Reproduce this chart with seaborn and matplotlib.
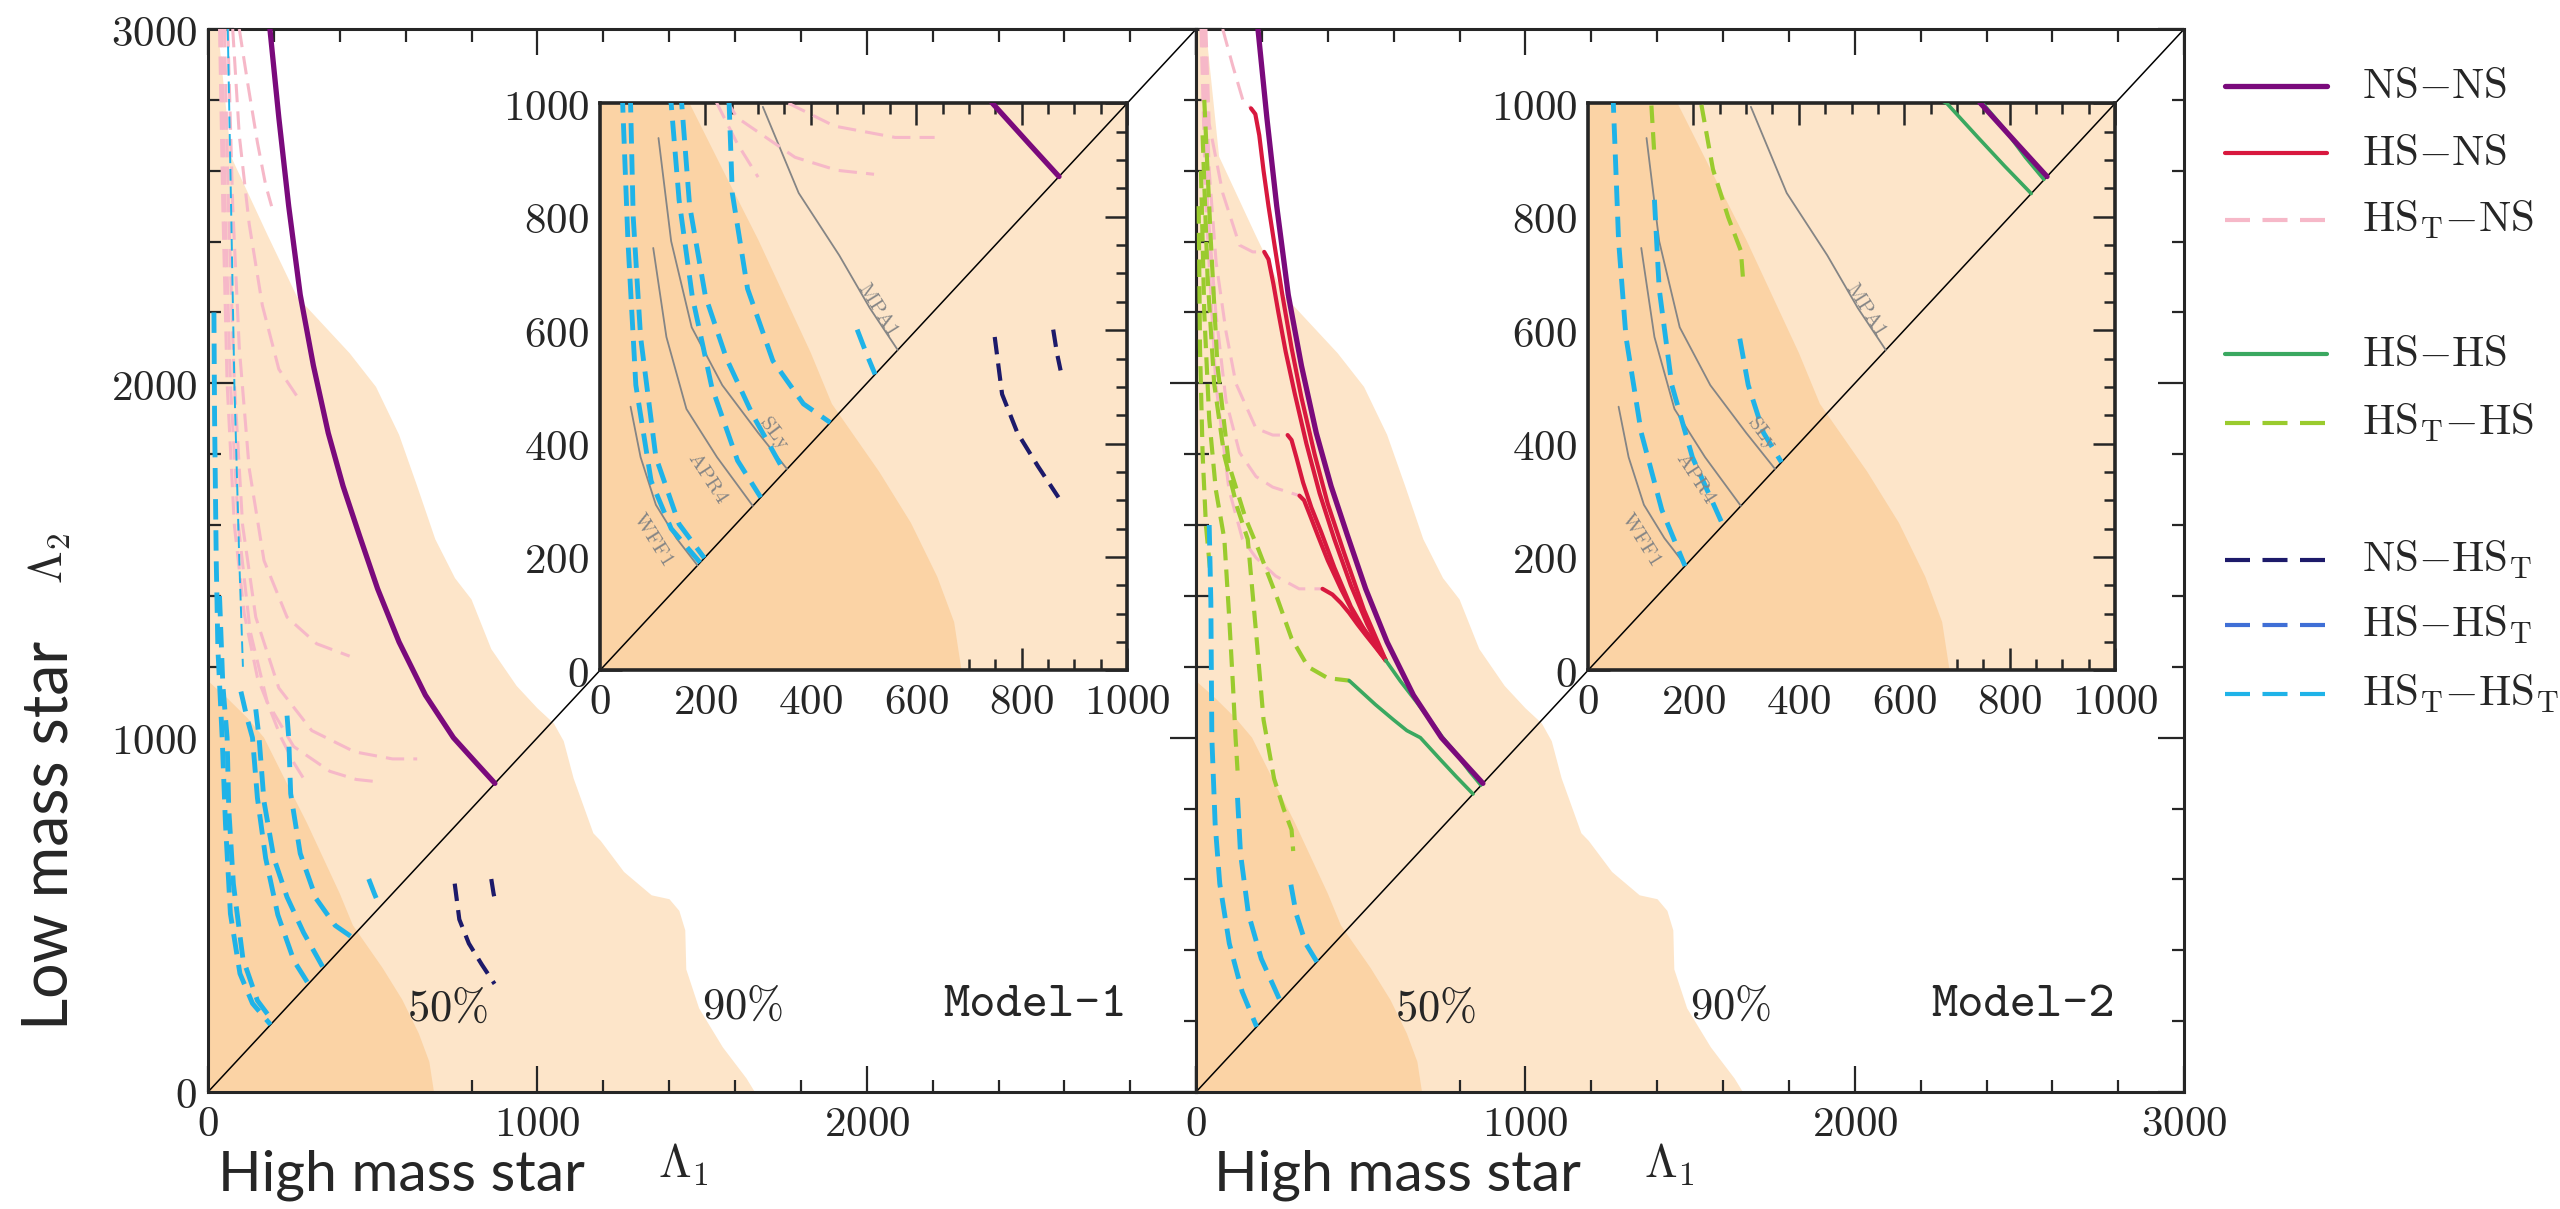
#!/usr/bin/env python3
# -*- coding: utf-8 -*-
#%% Import Modules
import pandas as pd
import seaborn as sns
import matplotlib.pyplot as plt
from matplotlib.lines import Line2D
from matplotlib.ticker import MultipleLocator, FuncFormatter

#%% Data: (Lambda_1, Lambda_2) points
# credible regions
c90_l1 = [0, 0, 30, 70, 180, 270, 350, 430, 510, 580, 635, 690, 750, 800, 860, 937, 1000,
          1050, 1080, 1110, 1170, 1192, 1263, 1347, 1401, 1431, 1449, 1452, 1491, 1563, 1635, 1660]
c90_l2 = [0, 3000, 3000, 2640, 2420, 2245, 2165, 2085, 1990, 1855, 1710, 1560, 1450, 1390, 1250,
          1146, 1083, 1040, 990, 885, 730, 709, 621, 555, 544, 511, 456, 346, 236, 126, 38, 0]
c50_l1 = [0, 0, 60, 120, 170, 240, 300, 350, 400, 440, 470, 530, 590, 640, 672, 686]
c50_l2 = [0, 1160, 1110, 1055, 1000, 870, 760, 660, 560, 470, 430, 350, 260, 165, 85, 0]
diag = [0, 3000]

# NS-NS (same in both models)
ns_ns = [(188, 3000), (215, 2750), (245, 2500), (280, 2250), (320, 2050), (365, 1860), (410, 1710),
         (460, 1570), (515, 1420), (580, 1270), (660, 1120), (745, 1000), (815, 928), (871, 871)]

# Model-1
hst_ns_1 = [
    [(95, 3000), (120, 2850), (150, 2680), (175, 2560), (193, 2500)],
    [(75, 3000), (95, 2700), (125, 2450), (165, 2220), (215, 2040), (280, 1950)],
    [(60, 3000), (75, 2500), (95, 2100), (125, 1760), (170, 1500), (240, 1340), (330, 1265), (430, 1230)],
    [(50, 3000), (62, 2500), (80, 2000), (105, 1600), (145, 1340), (215, 1140), (315, 1020), (445, 960),
     (560, 940), (635, 940)],
    [(42, 3000), (52, 2500), (68, 2000), (92, 1600), (128, 1300), (180, 1100), (260, 975), (370, 905),
     (450, 882), (520, 875)],
    [(35, 3000), (45, 2500), (58, 2000), (80, 1600), (110, 1350), (150, 1170), (222, 1000), (260, 930),
     (300, 870)],
]
hst_hst_1 = [
    [(18, 2200), (20, 1900), (25, 1500), (30, 1250), (43, 1000), (53, 757), (68, 503), (97, 334),
     (135, 250), (190, 190)],
    [(35, 1400), (45, 1150), (58, 1000), (63, 800), (77, 588), (106, 376), (150, 258), (198, 198)],
    [(100, 1130), (120, 1050), (135, 1000), (150, 830), (175, 660), (212, 500), (261, 370), (305, 305)],
    [(145, 1080), (155, 1000), (170, 820), (200, 660), (240, 550), (290, 450), (350, 350)],
    [(240, 1062), (245, 1000), (251, 842), (280, 673), (328, 546), (386, 470), (437, 437)],
    [(488, 601), (505, 560), (522, 522)],
]
hst_hst_1_thin = [(60, 3000), (70, 2500), (80, 2000), (95, 1500), (106, 1200)]
ns_hst_1 = [
    [(749, 588), (763, 487), (792, 419), (831, 360), (870, 305)],
    [(860, 601), (867, 560), (874, 529)],
]

# Model-2
hst_ns_2 = [
    [(81, 3000), (111, 2898), (142, 2800), (167, 2776)],
    [(30, 3000), (40, 2732), (81, 2537), (132, 2390), (172, 2371), (207, 2371)],
    [(25, 3000), (40, 2600), (61, 2341), (91, 2146), (121, 2000), (182, 1873), (233, 1854), (278, 1854)],
    [(20, 3000), (35, 2500), (60, 2200), (91, 1951), (132, 1805), (182, 1737), (233, 1707), (314, 1683)],
    [(15, 3000), (30, 2500), (60, 2000), (100, 1700), (141, 1560), (182, 1508), (242, 1456), (313, 1420),
     (384, 1420)],
]
hs_ns_2 = [
    [(167, 2776), (180, 2760), (192, 2700), (205, 2600), (220, 2500), (240, 2380), (262, 2250),
     (290, 2100), (320, 1960), (360, 1800), (400, 1660), (450, 1520), (510, 1360), (576, 1218)],
    [(207, 2371), (220, 2350), (235, 2280), (250, 2200), (272, 2090), (300, 1970), (335, 1830),
     (375, 1690), (420, 1560), (470, 1430), (520, 1320), (576, 1218)],
    [(278, 1854), (290, 1840), (305, 1790), (325, 1720), (350, 1650), (380, 1580), (420, 1480),
     (470, 1370), (520, 1290), (576, 1218)],
    [(314, 1683), (328, 1670), (345, 1630), (370, 1570), (400, 1500), (440, 1420), (490, 1330),
     (540, 1270), (576, 1218)],
    [(384, 1420), (414, 1404), (440, 1380), (465, 1352), (490, 1320), (515, 1290), (545, 1255), (576, 1218)],
]
hs_hs_2 = [
    [(465, 1161), (545, 1093), (600, 1050), (640, 1020), (681, 1000), (740, 940), (790, 890), (841, 841)],
    [(576, 1218), (620, 1160), (670, 1100), (710, 1050), (749, 1000), (790, 955), (830, 905), (865, 866)],
]
hst_hs_2 = [
    [(8, 2500), (12, 2100), (20, 1800), (30, 1600), (42, 1480)],
    [(15, 2600), (25, 2200), (40, 1900), (60, 1700), (86, 1560), (100, 1350), (112, 1150), (120, 1000),
     (126, 907)],
    [(20, 2700), (35, 2300), (55, 2000), (85, 1800), (125, 1650), (157, 1560), (182, 1300), (205, 1050),
     (237, 884), (266, 799), (290, 740), (295, 680)],
    [(25, 2800), (45, 2400), (65, 2050), (100, 1770), (150, 1620), (190, 1530), (244, 1400), (290, 1280),
     (340, 1200), (400, 1168), (465, 1161)],
]
hst_hst_2 = [
    [(40, 1600), (45, 1383), (48, 1000), (58, 757), (72, 588), (101, 419), (140, 283), (184, 184)],
    [(126, 830), (135, 673), (159, 503), (198, 376), (256, 256)],
    [(288, 585), (304, 503), (333, 419), (367, 367)],
]

# EOS reference lines (insets)
eos_names = ['WFF1', 'APR4', 'SLy', 'MPA1']
eos_lines = [
    [(58, 465), (77, 376), (106, 292), (145, 233), (185, 185)],
    [(101, 745), (126, 588), (164, 461), (222, 376), (290, 290)],
    [(111, 939), (135, 757), (174, 605), (232, 503), (300, 419), (355, 355)],
    [(309, 994), (377, 842), (454, 732), (512, 639), (565, 565)],
]
eos_label_pos = [(100, 232), (205, 340), (330, 418), (528, 636)]
eos_label_rot = [-58, -57, -53, -58]

legend_labels = [r'$\mathrm{NS{-}NS}$', r'$\mathrm{HS{-}NS}$', r'$\mathrm{HS_T{-}NS}$',
                 r'$\mathrm{HS{-}HS}$', r'$\mathrm{HS_T{-}HS}$',
                 r'$\mathrm{NS{-}HS_T}$', r'$\mathrm{HS{-}HS_T}$', r'$\mathrm{HS_T{-}HS_T}$']

#%% Styles
c_90 = '#fde5c9'
c_50 = '#fbd3a5'
col = {'NS-NS': '#7a0a7c', 'HS-NS': '#d8183e', 'HST-NS': '#f6b8c8', 'HS-HS': '#3aa860',
       'HST-HS': '#9acb2e', 'NS-HST': '#1d1a6a', 'HS-HST': '#3f6fd6', 'HST-HST': '#1fb3e8'}
dash = (4.2, 2.2)

sns.set_style('ticks')
plt.rcParams['mathtext.fontset'] = 'cm'
plt.rcParams['font.family'] = ['DejaVu Serif']
plt.rcParams['axes.linewidth'] = 2.2


def curve(ax, pts, color, lw, dashes=None, z=3):
    df = pd.DataFrame(pts, columns=['l1', 'l2'])
    ls = '-' if dashes is None else (0, dashes)
    sns.lineplot(data=df, x='l1', y='l2', sort=False, estimator=None, color=color,
                 lw=lw, linestyle=ls, ax=ax, zorder=z, legend=False)


def tex_fmt(hide=None):
    return FuncFormatter(lambda v, p: '' if (hide is not None and abs(v - hide) < 1) else f'${v:.0f}$')


def draw_model(ax, model):
    ax.fill(c90_l1, c90_l2, color=c_90, lw=0, zorder=0)
    ax.fill(c50_l1, c50_l2, color=c_50, lw=0, zorder=1)
    sns.lineplot(x=diag, y=diag, color='black', lw=1.1, ax=ax, zorder=2)
    if model == 1:
        for c in hst_ns_1:
            curve(ax, c, col['HST-NS'], 2.2, (6, 3))
        curve(ax, hst_hst_1_thin, col['HST-HST'], 1.4, (6, 3))
        for c in hst_hst_1:
            curve(ax, c, col['HST-HST'], 3.5, dash)
        for c in ns_hst_1:
            curve(ax, c, col['NS-HST'], 3.0, dash)
    else:
        for c in hst_ns_2:
            curve(ax, c, col['HST-NS'], 2.2, (6, 3))
        for c in hst_hs_2:
            curve(ax, c, col['HST-HS'], 3.0, dash)
        for c in hst_hst_2:
            curve(ax, c, col['HST-HST'], 3.5, dash)
        for c in hs_ns_2:
            curve(ax, c, col['HS-NS'], 3.0)
        for c in hs_hs_2:
            curve(ax, c, col['HS-HS'], 2.6)
    curve(ax, ns_ns, col['NS-NS'], 3.8, z=4)


#%% Figure
fig = plt.figure(figsize=(25.6, 12.09), dpi=100)
ax1 = fig.add_axes([0.08125, 0.0968, 0.386, 0.8792])
ax2 = fig.add_axes([0.4672, 0.0968, 0.386, 0.8792])

for k, ax in enumerate([ax1, ax2]):
    model = k + 1
    draw_model(ax, model)
    ax.set_xlabel('')
    ax.set_ylabel('')
    ax.set_xlim(0, 3000)
    ax.set_ylim(0, 3000)
    ax.xaxis.set_major_locator(MultipleLocator(1000))
    ax.xaxis.set_minor_locator(MultipleLocator(200))
    ax.yaxis.set_major_locator(MultipleLocator(1000))
    ax.yaxis.set_minor_locator(MultipleLocator(200))
    ax.tick_params(which='both', direction='in', top=True, right=True, width=1.6, labelsize=31, pad=8)
    ax.tick_params(which='major', length=19)
    ax.tick_params(which='minor', length=9)
    ax.xaxis.set_major_formatter(tex_fmt(3000 if model == 1 else None))
    ax.yaxis.set_major_formatter(tex_fmt())
    if model == 2:
        ax.tick_params(labelleft=False)
    ax.text(727, 235, r'$50\%$', ha='center', va='center', fontsize=32, zorder=6)
    ax.text(1623, 242, r'$90\%$', ha='center', va='center', fontsize=32, zorder=6)
    ax.text(2790, 242, f'Model-{model}', ha='right', va='center', family='cmtt10', fontsize=36, zorder=6)

    # inset zoom on 0-1000
    ins = ax.inset_axes([0.3967, 0.3967, 0.5333, 0.5333])
    ins.set_zorder(10)
    draw_model(ins, model)
    for (pts, name, pos, rot) in zip(eos_lines, eos_names, eos_label_pos, eos_label_rot):
        curve(ins, pts, '#858585', 1.3, z=2.5)
        ins.text(pos[0], pos[1], rf'$\mathrm{{{name}}}$', color='#858585', fontsize=15,
                 rotation=rot, ha='center', va='center', zorder=3)
    ins.set_xlabel('')
    ins.set_ylabel('')
    ins.set_xlim(0, 1000)
    ins.set_ylim(0, 1000)
    ins.xaxis.set_major_locator(MultipleLocator(200))
    ins.xaxis.set_minor_locator(MultipleLocator(50))
    ins.yaxis.set_major_locator(MultipleLocator(200))
    ins.yaxis.set_minor_locator(MultipleLocator(50))
    ins.xaxis.set_major_formatter(tex_fmt())
    ins.yaxis.set_major_formatter(tex_fmt())
    ins.tick_params(which='both', direction='in', top=True, right=True, width=1.8, labelsize=31, pad=8)
    ins.tick_params(which='major', length=16)
    ins.tick_params(which='minor', length=8)
    for s in ins.spines.values():
        s.set_linewidth(2.6)

#%% Axis labels
fig.text(0.0195, 0.309, 'Low mass star', family='Lato', fontsize=45, rotation=90, ha='center', va='center')
fig.text(0.0195, 0.538, r'$\Lambda_2$', fontsize=34, rotation=90, ha='center', va='center')
for xc, xl in [(0.157, 0.267), (0.546, 0.652)]:
    fig.text(xc, 0.028, 'High mass star', family='Lato', fontsize=41, ha='center', va='center')
    fig.text(xl, 0.036, r'$\Lambda_1$', fontsize=34, ha='center', va='center')

#%% Legend drawn by hand
leg_y = [86, 153, 220, 354, 423, 560, 625, 694]
leg_keys = ['NS-NS', 'HS-NS', 'HST-NS', 'HS-HS', 'HST-HS', 'NS-HST', 'HS-HST', 'HST-HST']
leg_dashed = [False, False, True, False, True, True, True, True]
for key, lab, y, dsh in zip(leg_keys, legend_labels, leg_y, leg_dashed):
    fy = 1 - y / 1209
    ls = (0, (6, 3)) if dsh else '-'
    lw = 3.8 if key == 'NS-NS' else 3.0
    fig.add_artist(Line2D([0.8691, 0.909], [fy, fy], color=col[key], lw=lw, linestyle=ls,
                          transform=fig.transFigure))
    fig.text(0.9227, fy, lab, fontsize=31, ha='left', va='center')

plt.savefig('out.png', dpi=100)
